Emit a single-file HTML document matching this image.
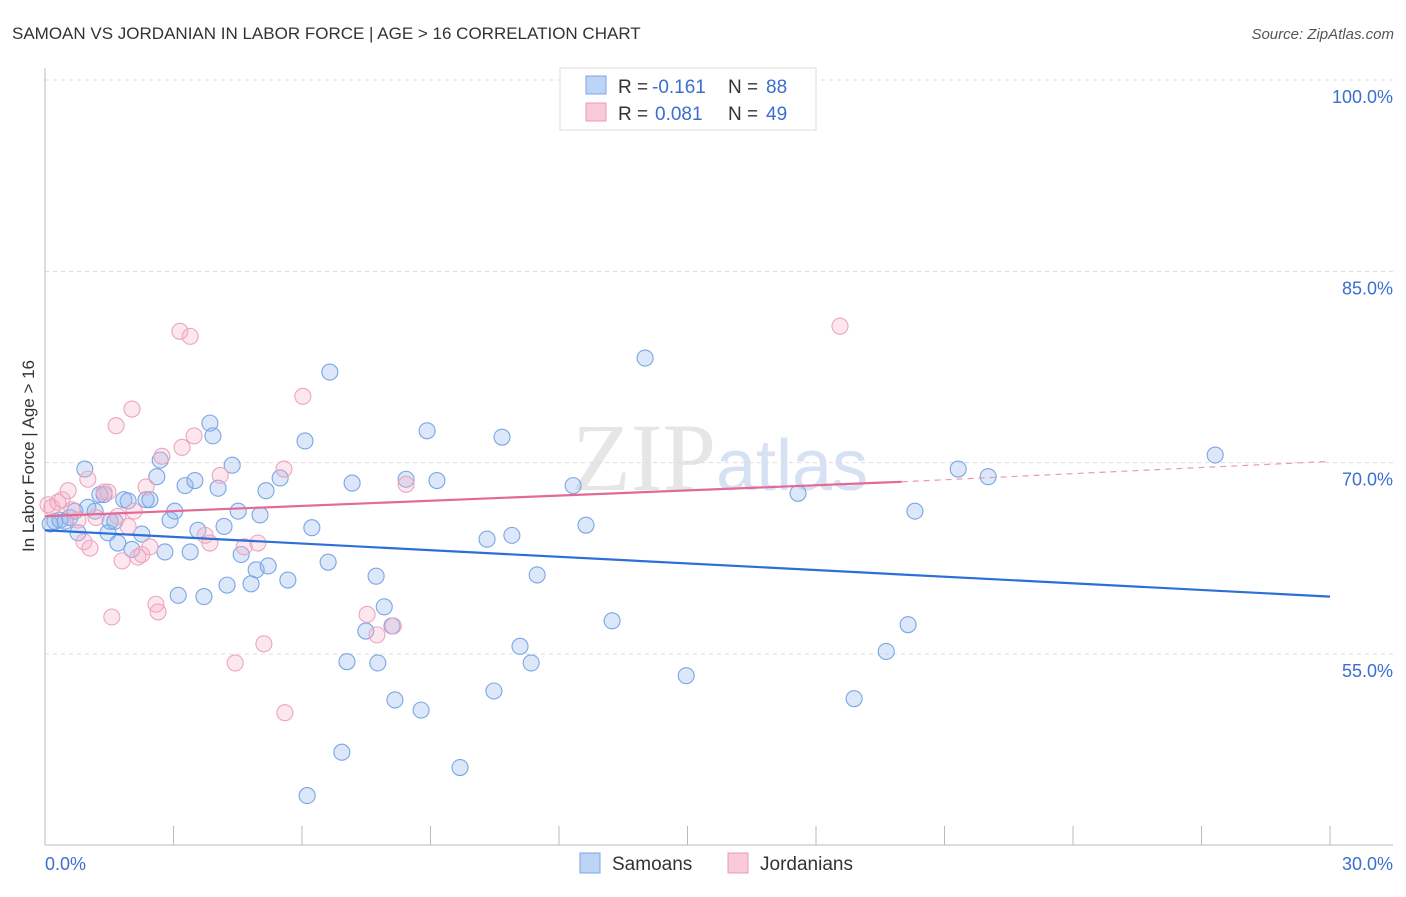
<!DOCTYPE html>
<html><head><meta charset="utf-8"><style>
body{margin:0;background:#fff;font-family:"Liberation Sans",sans-serif;}
</style></head><body>
<svg width="1406" height="892" xmlns="http://www.w3.org/2000/svg" style="font-family:'Liberation Sans',sans-serif">
<text x="12" y="39" font-size="17" fill="#333">SAMOAN VS JORDANIAN IN LABOR FORCE | AGE &gt; 16 CORRELATION CHART</text>
<text x="1394" y="39" font-size="15" fill="#555" font-style="italic" text-anchor="end">Source: ZipAtlas.com</text>
<text x="720" y="490" font-size="96" fill="#e6e6e6" text-anchor="middle" font-family="Liberation Serif">ZIP<tspan fill="#d6e2f3" font-family="Liberation Sans" font-size="72">atlas</tspan></text>
<g id="grid"></g>
<g id="axes"></g>
<g id="pts"></g>
<g id="trend"></g>
<text transform="translate(34,456) rotate(-90)" font-size="17" fill="#333" text-anchor="middle">In Labor Force | Age &gt; 16</text>
<g>
<rect x="560" y="68" width="256" height="62" fill="#fff" stroke="#ddd"/>
<rect x="586" y="76" width="20" height="18" fill="#bcd4f6" stroke="#7aa6e4"/>
<text x="618" y="93" font-size="19" fill="#333">R =</text>
<text x="652" y="93" font-size="19" fill="#3a6fd0">-0.161</text>
<text x="728" y="93" font-size="19" fill="#333">N =</text>
<text x="766" y="93" font-size="19" fill="#3a6fd0">88</text>
<rect x="586" y="103" width="20" height="18" fill="#f9cad9" stroke="#e99ab5"/>
<text x="618" y="120" font-size="19" fill="#333">R =</text>
<text x="655" y="120" font-size="19" fill="#3a6fd0">0.081</text>
<text x="728" y="120" font-size="19" fill="#333">N =</text>
<text x="766" y="120" font-size="19" fill="#3a6fd0">49</text>
</g>
<g>
<rect x="580" y="853" width="20" height="20" fill="#bcd4f6" stroke="#7aa6e4"/>
<text x="612" y="870" font-size="19" fill="#333">Samoans</text>
<rect x="728" y="853" width="20" height="20" fill="#f9cad9" stroke="#e99ab5"/>
<text x="760" y="870" font-size="19" fill="#333">Jordanians</text>
</g>
</svg>
<script>
const yTicks=[100,85,70,55];
const yTickLabels=["100.0%","85.0%","70.0%","55.0%"];
const xTickLabels=["0.0%","30.0%"];
const samX=[0.12,0.23,0.35,0.47,0.58,0.70,0.77,0.93,1.0,1.17,1.28,1.38,1.47,1.52,1.63,1.70,1.84,1.94,2.03,2.26,2.36,2.45,2.61,2.69,2.80,2.92,3.03,3.11,3.27,3.39,3.50,3.57,3.71,3.85,3.92,4.04,4.18,4.25,4.37,4.51,4.58,4.81,4.93,5.02,5.16,5.21,5.49,5.67,6.07,6.23,6.12,6.61,6.65,6.93,7.05,7.17,7.73,7.77,7.92,7.49,8.10,8.17,8.43,8.78,8.92,9.15,9.69,10.32,10.48,10.67,10.90,11.09,11.35,11.49,12.33,12.63,13.24,14.01,14.97,17.58,18.89,19.64,20.15,20.31,21.32,22.02,27.32];
const samY=[65.2,65.4,65.5,65.4,65.7,66.2,64.5,69.5,66.5,66.2,67.5,67.5,64.5,65.4,65.4,63.7,67.1,67.0,63.2,64.4,67.1,67.1,68.9,70.2,63.0,65.5,66.2,59.6,68.2,63.0,68.6,64.7,59.5,73.1,72.1,68.0,65.0,60.4,69.8,66.2,62.8,60.5,61.6,65.9,67.8,61.9,68.8,60.8,71.7,64.9,43.9,62.2,77.1,47.3,54.4,68.4,61.1,54.3,58.7,56.8,57.2,51.4,68.7,50.6,72.5,68.6,46.1,64.0,52.1,72.0,64.3,55.6,54.3,61.2,68.2,65.1,57.6,78.2,53.3,67.6,51.5,55.2,57.3,66.2,69.5,68.9,70.6];
const jorX=[0.07,0.16,0.30,0.40,0.54,0.63,0.77,0.91,1.0,1.05,1.19,1.38,1.47,1.56,1.66,1.70,1.80,1.94,2.03,2.08,2.17,2.26,2.36,2.45,2.59,2.64,2.73,3.15,3.20,3.39,3.48,3.74,3.85,4.09,4.44,4.65,4.97,5.11,5.58,5.60,6.02,7.52,7.75,8.13,8.43,18.56];
const jorY=[66.7,66.5,66.9,67.1,67.8,66.3,65.5,63.8,68.7,63.3,65.7,67.7,67.7,57.9,72.9,65.8,62.3,65.0,74.2,66.2,62.6,62.8,68.1,63.4,58.9,58.3,70.5,80.3,71.2,79.9,72.1,64.3,63.7,69.0,54.3,63.4,63.7,55.8,69.5,50.4,75.2,58.1,56.5,57.2,68.3,80.7];
const samTrendX=[0,30], samTrendY=[64.7,59.5];
const jorTrendX=[0,20,30], jorTrendY=[65.8,68.5,70.1];

const X=v=>45+v*(1330-45)/30;
const Y=v=>80+(100-v)*(654-80)/45;
const NS="http://www.w3.org/2000/svg";
function mk(tag,attrs,parent){const e=document.createElementNS(NS,tag);for(const k in attrs)e.setAttribute(k,attrs[k]);document.getElementById(parent).appendChild(e);return e;}

yTicks.forEach((t,i)=>{
  const l=mk('line',{x1:45,x2:1393,y1:Y(t),y2:Y(t),stroke:'#ddd','stroke-dasharray':'4,4'},'grid');
  
  
  const tx=mk('text',{x:1393,y:Y(t)+23,'font-size':18,fill:'#3a6fd0','text-anchor':'end'},'grid');
  tx.textContent=yTickLabels[i];
  
  
});
let a=mk('line',{x1:45,x2:45,y1:68,y2:845,stroke:'#bbb'},'axes');


a=mk('line',{x1:45,x2:1393,y1:845,y2:845,stroke:'#bbb'},'axes');


for(let i=0;i<=10;i++){
  const t=mk('line',{x1:X(i*3),x2:X(i*3),y1:826,y2:845,stroke:'#bbb'},'axes');
  
  
}
[[0,'start',45],[30,'end',1393]].forEach((d,i)=>{
  const t=mk('text',{x:d[2],y:870,'font-size':18,fill:'#3a6fd0','text-anchor':d[1]},'axes');
  t.textContent=xTickLabels[i];
  
  
});
samX.forEach((v,i)=>{
  const c=mk('circle',{cx:X(v),cy:Y(samY[i]),r:8,fill:'rgba(140,180,240,0.3)',stroke:'#7aa6e4','stroke-width':1.1},'pts');
  
  
});
jorX.forEach((v,i)=>{
  const c=mk('circle',{cx:X(v),cy:Y(jorY[i]),r:8,fill:'rgba(248,175,200,0.3)',stroke:'#eca5bd','stroke-width':1.1},'pts');
  
  
});
let l=mk('line',{x1:X(samTrendX[0]),y1:Y(samTrendY[0]),x2:X(samTrendX[1]),y2:Y(samTrendY[1]),stroke:'#2d6fd6','stroke-width':2.2},'trend');


l=mk('line',{x1:X(jorTrendX[0]),y1:Y(jorTrendY[0]),x2:X(jorTrendX[1]),y2:Y(jorTrendY[1]),stroke:'#e46a95','stroke-width':2.2},'trend');


l=mk('line',{x1:X(jorTrendX[1]),y1:Y(jorTrendY[1]),x2:X(jorTrendX[2]),y2:Y(jorTrendY[2]),stroke:'#e99ab5','stroke-width':1.2,'stroke-dasharray':'6,5'},'trend');


</script>
</body></html>
